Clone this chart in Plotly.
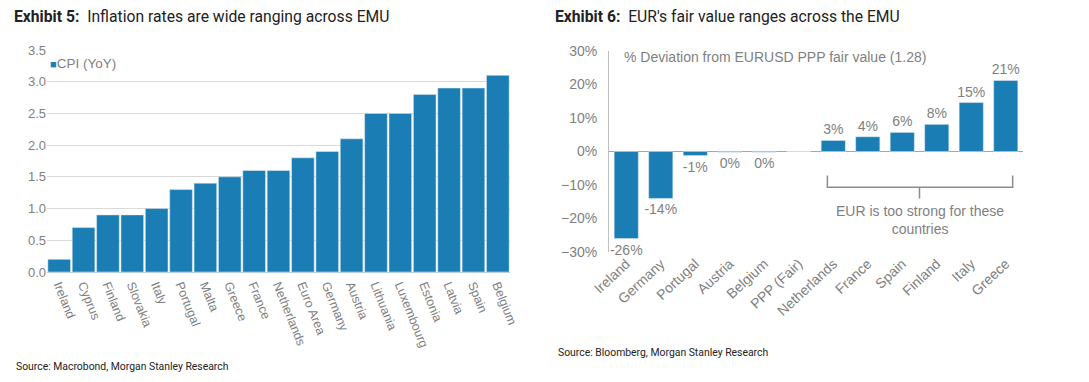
import plotly.graph_objects as go

# Exhibit 5 data
cpi_countries = ["Ireland", "Cyprus", "Finland", "Slovakia", "Italy", "Portugal", "Malta", "Greece",
                 "France", "Netherlands", "Euro Area", "Germany", "Austria", "Lithuania", "Luxembourg",
                 "Estonia", "Latvia", "Spain", "Belgium"]
cpi_values = [0.2, 0.7, 0.9, 0.9, 1.0, 1.3, 1.4, 1.5, 1.6, 1.6, 1.8, 1.9, 2.1, 2.5, 2.5, 2.8, 2.9, 2.9, 3.1]

# Exhibit 6 data
fv_countries = ["Ireland", "Germany", "Portugal", "Austria", "Belgium", "PPP (Fair)", "Netherlands",
                "France", "Spain", "Finland", "Italy", "Greece"]
fv_values = [-26, -14, -1.2, -0.2, -0.2, 0, 3.3, 4.4, 5.7, 8.1, 14.6, 21.2]
fv_labels = ["-26%", "-14%", "-1%", "0%", "0%", "", "3%", "4%", "6%", "8%", "15%", "21%"]

W, H = 1089, 382
OFF = 8  # default page body margin
BLUE = "#1a7db4"
GREY = "#7f7f7f"
TXT = "#595959"

def px(x):
    return (x - OFF) / W

def py(y):
    return 1 - (y - OFF) / H

fig = go.Figure()

fig.add_trace(go.Bar(x=cpi_countries, y=cpi_values, marker_color=BLUE, name="CPI (YoY)",
                     xaxis="x", yaxis="y", showlegend=False))

fig.add_trace(go.Bar(x=fv_countries, y=fv_values, marker_color=BLUE, name="fv",
                     xaxis="x2", yaxis="y2", showlegend=False, width=0.7,
                     text=fv_labels, textposition="outside", cliponaxis=False,
                     textfont=dict(family="Liberation Sans, Arial", size=14, color=GREY)))

fig.update_layout(
    width=W, height=H,
    margin=dict(l=0, r=0, t=0, b=0, autoexpand=False),
    paper_bgcolor="white", plot_bgcolor="white",
    bargap=0.07,
    uniformtext=dict(minsize=14, mode="show"),
    font=dict(family="Liberation Sans, Arial", color=TXT),
    xaxis=dict(domain=[px(47), px(510)], anchor="y", showgrid=False, tickangle=68,
               tickfont=dict(size=12.5, color=GREY), showline=True, linecolor="#b8cfe0",
               linewidth=1, ticks="", automargin=False),
    yaxis=dict(domain=[py(272), py(50)], anchor="x", range=[0, 3.5], dtick=0.5,
               tickformat=".1f", showgrid=True, gridcolor="#d9d9d9", gridwidth=1,
               tickfont=dict(size=13, color=GREY), zeroline=False, ticks="", automargin=False),
    xaxis2=dict(domain=[px(609), px(1023)], anchor="y2", showgrid=False, tickangle=-43,
                tickfont=dict(size=14, color=GREY), showline=False, ticks="", automargin=False),
    yaxis2=dict(domain=[py(252), py(51)], anchor="x2", range=[-30, 30], dtick=10,
                ticksuffix="%", showgrid=False, zeroline=True, zerolinecolor="#a6a6a6",
                zerolinewidth=1, showline=True, linecolor="#bfbfbf", linewidth=1,
                ticklabelstandoff=8,
                tickfont=dict(size=14, color=GREY), ticks="", automargin=False),
)

annotations = [
    dict(x=px(12), y=py(17), xref="paper", yref="paper", xanchor="left", yanchor="middle",
         showarrow=False, text="<b>Exhibit 5:</b>  Inflation rates are wide ranging across EMU",
         font=dict(family="Roboto", size=15.7, color="#222222")),
    dict(x=px(553), y=py(17), xref="paper", yref="paper", xanchor="left", yanchor="middle",
         showarrow=False, text="<b>Exhibit 6:</b>  EUR's fair value ranges across the EMU",
         font=dict(family="Roboto", size=15.7, color="#222222")),
    dict(x=px(14), y=py(366), xref="paper", yref="paper", xanchor="left", yanchor="middle",
         showarrow=False, text="Source: Macrobond, Morgan Stanley Research",
         font=dict(family="Roboto", size=10.4, color="#222222")),
    dict(x=px(556), y=py(352), xref="paper", yref="paper", xanchor="left", yanchor="middle",
         showarrow=False, text="Source: Bloomberg, Morgan Stanley Research",
         font=dict(family="Roboto", size=10.4, color="#222222")),
    dict(x=px(48), y=py(63), xref="paper", yref="paper", xanchor="left", yanchor="middle",
         showarrow=False,
         text="<span style='color:%s;font-size:11px'>■</span>CPI (YoY)" % BLUE,
         font=dict(size=13.5, color=GREY)),
    dict(x=px(622), y=py(57), xref="paper", yref="paper", xanchor="left", yanchor="middle",
         showarrow=False, text="% Deviation from EURUSD PPP fair value (1.28)",
         font=dict(size=14, color=GREY)),
    dict(x=8.5, y=-20.3, xref="x2", yref="y2", xanchor="center", yanchor="middle",
         showarrow=False, text="EUR is too strong for these<br>countries",
         font=dict(size=14, color=GREY)),
]
fig.update_layout(annotations=annotations)

fig.add_shape(type="path", xref="x2", yref="y2",
              path="M 5.83,-7.2 L 5.83,-10.7 L 11.2,-10.7 L 11.2,-7.2 M 8.5,-10.7 L 8.5,-14",
              line=dict(color="#8c8c8c", width=1.5))

fig.write_html("out.html")
